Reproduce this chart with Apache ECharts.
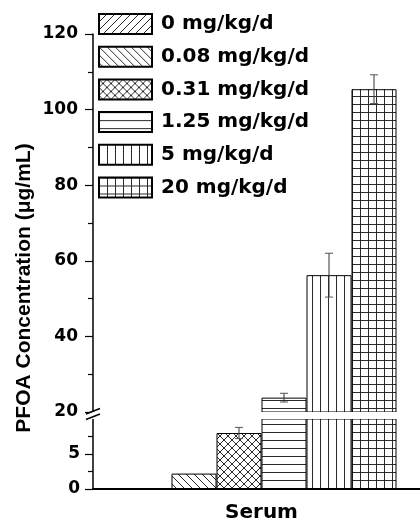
<!DOCTYPE html>
<html><head><meta charset="utf-8">
<script src="https://cdn.jsdelivr.net/npm/echarts@6/dist/echarts.min.js"></script>
<style>html,body{margin:0;padding:0;background:#fff}#c{width:420px;height:521px}</style>
</head><body><div id="c"></div>
<script>
// ---- data ----
const categories = ['Serum'];
const doseLabels = ['0 mg/kg/d', '0.08 mg/kg/d', '0.31 mg/kg/d', '1.25 mg/kg/d', '5 mg/kg/d', '20 mg/kg/d'];
const meanValues = [0, 2.2, 8.0, 23.8, 56.2, 105.4];
const errValues = [0, 0, 0.8, 1.15, 5.8, 3.8];
const upperRange = [20, 120];
const upperTickStep = 20;
const lowerRange = [0, 10];
const lowerMajorTicks = [0, 5];
const lowerMinorTicks = [2.5, 7.5];
const yTitle = 'PFOA Concentration (\u03bcg/mL)';

// ---- styles ----
const patternKinds = ['slash', 'backslash', 'cross', 'horizontal', 'vertical', 'grid'];
const BAR_W = 45;
const LABEL_FONT = 'DejaVu Sans';

function makePattern(kind) {
  const s = 8;
  const c = document.createElement('canvas');
  c.width = s; c.height = s;
  const g = c.getContext('2d');
  g.fillStyle = '#fff'; g.fillRect(0, 0, s, s);
  g.strokeStyle = '#2a2a2a'; g.lineWidth = 1;
  g.beginPath();
  if (kind === 'horizontal' || kind === 'grid') { g.moveTo(0, 0.5); g.lineTo(s, 0.5); }
  if (kind === 'vertical' || kind === 'grid') { g.moveTo(0.5, 0); g.lineTo(0.5, s); }
  if (kind === 'slash' || kind === 'cross') { g.moveTo(-1, s + 1); g.lineTo(s + 1, -1); }
  if (kind === 'backslash' || kind === 'cross') { g.moveTo(-1, -1); g.lineTo(s + 1, s + 1); }
  g.stroke();
  return { image: c, repeat: 'repeat' };
}
const patterns = patternKinds.map(makePattern);

const chart = echarts.init(document.getElementById('c'), null, { renderer: 'canvas' });

const series = [];
[0, 1].forEach(function (gi) {
  doseLabels.forEach(function (name, i) {
    series.push({
      type: 'bar', name: name, xAxisIndex: gi, yAxisIndex: gi,
      data: [meanValues[i]], barWidth: BAR_W, barGap: '0%', clip: true, silent: true,
      itemStyle: { color: patterns[i], borderColor: '#000', borderWidth: 1 }
    });
  });
  series.push({
    type: 'custom', xAxisIndex: gi, yAxisIndex: gi, clip: true, silent: true, z: 5,
    data: doseLabels.map(function (n, i) { return [0, meanValues[i] - errValues[i], meanValues[i] + errValues[i], i, errValues[i]]; })
      .filter(function (d) { return d[4] > 0; }),
    renderItem: function (params, api) {
      const idx = api.value(3);
      const lo = api.coord([0, api.value(1)]);
      const hi = api.coord([0, api.value(2)]);
      const x = lo[0] + (idx - (doseLabels.length - 1) / 2) * BAR_W;
      const cw = 4;
      return {
        type: 'group', children: [
          { type: 'line', shape: { x1: x, y1: lo[1], x2: x, y2: hi[1] }, style: { stroke: '#333', lineWidth: 1 } },
          { type: 'line', shape: { x1: x - cw, y1: lo[1], x2: x + cw, y2: lo[1] }, style: { stroke: '#555', lineWidth: 1 } },
          { type: 'line', shape: { x1: x - cw, y1: hi[1], x2: x + cw, y2: hi[1] }, style: { stroke: '#555', lineWidth: 1 } }
        ]
      };
    }
  });
});

const labelStyle = { fontFamily: LABEL_FONT, fontWeight: 'bold', fontSize: 17, color: '#000' };

chart.setOption({
  animation: false,
  backgroundColor: '#fff',
  grid: [
    { left: 93, width: 337, top: 34, height: 378, outerBoundsMode: 'none', containLabel: false },
    { left: 93, width: 337, top: 419, height: 70, outerBoundsMode: 'none', containLabel: false }
  ],
  legend: {
    data: doseLabels, orient: 'vertical', left: 98, top: 13, padding: 0,
    itemWidth: 53, itemHeight: 20, itemGap: 10.7, icon: 'rect', selectedMode: false,
    textStyle: { fontFamily: LABEL_FONT, fontWeight: 'bold', fontSize: 20, color: '#000', padding: [0, 0, 0, 4] }
  },
  xAxis: [
    { type: 'category', gridIndex: 0, data: categories, show: false },
    {
      type: 'category', gridIndex: 1, data: categories,
      axisLine: { lineStyle: { color: '#000', width: 2 } },
      axisTick: { alignWithLabel: true, length: 8, lineStyle: { color: '#000', width: 1.5 } },
      axisLabel: { margin: 14, fontFamily: LABEL_FONT, fontWeight: 'bold', fontSize: 20, color: '#000' }
    }
  ],
  yAxis: [
    {
      type: 'value', gridIndex: 0, min: upperRange[0], max: upperRange[1], interval: upperTickStep,
      axisLine: { show: true, lineStyle: { color: '#000', width: 1.5 } },
      axisTick: { show: true, length: 8, lineStyle: { color: '#000', width: 1.2 } },
      minorTick: { show: true, splitNumber: 2, length: 5, lineStyle: { color: '#000', width: 1.2 } },
      splitLine: { show: false },
      axisLabel: Object.assign({ margin: 15 }, labelStyle)
    },
    {
      type: 'value', gridIndex: 1, min: lowerRange[0], max: lowerRange[1], interval: 5,
      axisLine: { show: true, lineStyle: { color: '#000', width: 1.5 } },
      axisTick: { show: true, length: 8, customValues: lowerMajorTicks, lineStyle: { color: '#000', width: 1.2 } },
      splitLine: { show: false },
      axisLabel: Object.assign({ margin: 13, customValues: lowerMajorTicks,
        formatter: function (v) { return lowerMajorTicks.indexOf(v) >= 0 ? String(v) : ''; } }, labelStyle)
    },
    {
      type: 'value', gridIndex: 1, position: 'left', min: lowerRange[0], max: lowerRange[1],
      axisLine: { show: false },
      axisTick: { show: true, length: 5, customValues: lowerMinorTicks, lineStyle: { color: '#000', width: 1.2 } },
      axisLabel: { show: false }, splitLine: { show: false }
    }
  ],
  graphic: [
    { type: 'rect', z: 50, shape: { x: 90, y: 412, width: 340, height: 7 }, style: { fill: '#fff' }, silent: true },
    { type: 'line', z: 51, shape: { x1: 86, y1: 414, x2: 100, y2: 408.5 }, style: { stroke: '#000', lineWidth: 1.5 } },
    { type: 'line', z: 51, shape: { x1: 86, y1: 419.5, x2: 100, y2: 414 }, style: { stroke: '#000', lineWidth: 1.5 } },
    {
      type: 'text', z: 51, x: 24, y: 288, rotation: Math.PI / 2,
      style: { text: yTitle, fontFamily: 'Liberation Sans', fontWeight: 'bold', fontSize: 21, fill: '#000', align: 'center', verticalAlign: 'middle' }
    }
  ],
  series: series
});
</script>
</body></html>
